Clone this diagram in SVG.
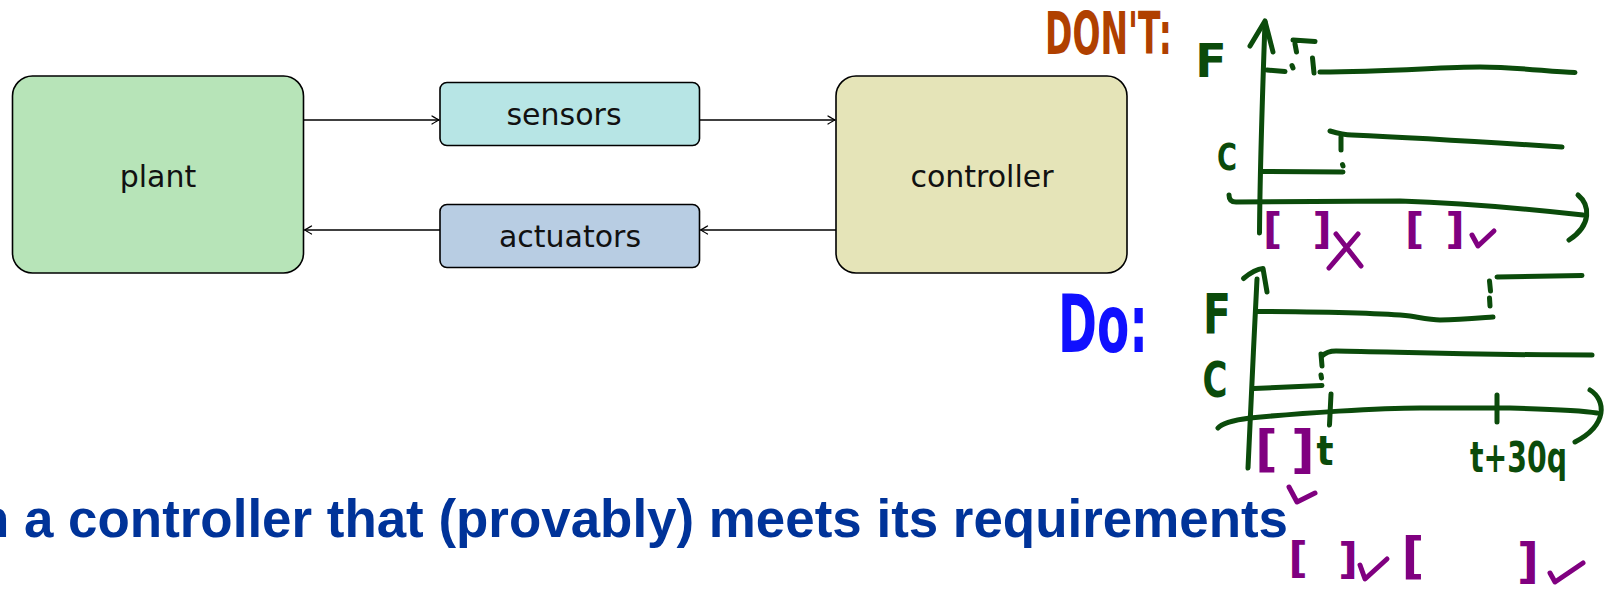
<svg xmlns="http://www.w3.org/2000/svg" width="1616" height="589" viewBox="0 0 1616 589">
  <defs>
    <marker id="tip" viewBox="-10 -6 12 12" markerWidth="12" markerHeight="12" refX="0" refY="0" orient="auto" markerUnits="userSpaceOnUse">
      <path d="M-7,-4 Q-2,-1 0,0 Q-2,1 -7,4" fill="none" stroke="#000" stroke-width="1.3" stroke-linecap="round"/>
    </marker>
    <style>
      .box { stroke: #000; stroke-width: 1.6; }
      .lbl { font-family: "DejaVu Sans", "Liberation Sans", sans-serif; font-size: 30px; fill: #111; text-anchor: middle; }
      .wire { fill: none; stroke: #000; stroke-width: 1.3; marker-end: url(#tip); }
      .ink { fill: none; stroke: #0b4b0b; stroke-width: 5; stroke-linecap: round; stroke-linejoin: round; }
      .pink { fill: none; stroke: #800080; stroke-width: 5; stroke-linecap: round; stroke-linejoin: round; }
      .hand { font-family: "DejaVu Sans", "Liberation Sans", sans-serif; font-weight: bold; }
      .g { fill: #0b4b0b; }
      .p { fill: #800080; text-anchor: middle; }
      .title { font-family: "Liberation Sans", Arial, sans-serif; font-weight: bold; font-size: 54px; fill: #003399; }
    </style>
  </defs>

  <!-- feedback loop: plant, sensors, controller, actuators -->
  <g id="plant">
    <rect class="box" x="12.5" y="76" width="291" height="197" rx="20" fill="#b7e4b8"/>
    <text class="lbl" x="158" y="187">plant</text>
  </g>
  <g id="sensors">
    <rect class="box" x="440" y="82.5" width="259.5" height="63" rx="7" fill="#b7e5e5"/>
    <text class="lbl" x="564" y="125">sensors</text>
  </g>
  <g id="actuators">
    <rect class="box" x="440" y="204.5" width="259.5" height="63" rx="7" fill="#b8cde3"/>
    <text class="lbl" x="570" y="247">actuators</text>
  </g>
  <g id="controller">
    <rect class="box" x="836" y="76" width="291" height="197" rx="20" fill="#e5e4b8"/>
    <text class="lbl" x="982" y="187">controller</text>
  </g>

  <g id="connectors">
    <path class="wire" d="M303.5,120 H439"/>
    <path class="wire" d="M699.5,120 H835"/>
    <path class="wire" d="M836,230 H700.5"/>
    <path class="wire" d="M440,230 H304.5"/>
  </g>

  <!-- headline -->
  <text class="title" x="-23" y="537" textLength="1311" lengthAdjust="spacingAndGlyphs">n a controller that (provably) meets its requirements</text>

  <!-- handwritten timing sketch: the wrong way -->
  <g id="dont-sketch">
    <text class="hand" x="1045" y="54" font-size="58" fill="#b04000" textLength="127" lengthAdjust="spacingAndGlyphs">DON'T:</text>
    <text class="hand g" x="1211" y="77" font-size="46" text-anchor="middle">F</text>
    <text class="hand g" x="1227" y="170" font-size="37" text-anchor="middle" textLength="20" lengthAdjust="spacingAndGlyphs">C</text>
    <!-- axes -->
    <path class="ink" d="M1265,22 C1263,80 1260,160 1259.5,233"/>
    <path class="ink" d="M1250,46 L1265,21 L1273,52"/>
    <path class="ink" d="M1229,195 Q1229,202 1236,202 L1400,201 C1460,203 1520,208 1583,215"/>
    <path class="ink" d="M1578,195 C1590,205 1592,225 1569,240"/>
    <!-- F signal -->
    <path class="ink" d="M1267,70 L1285,71.5"/>
    <path class="ink" d="M1292,65.5 L1293,68"/>
    <path class="ink" d="M1293,40 L1315,41.5 M1295,44 L1296.5,52 M1312.5,58 L1314,73"/>
    <path class="ink" d="M1320,72 C1390,72 1440,67 1480,67 C1520,67 1550,72 1575,72.5"/>
    <!-- C signal -->
    <path class="ink" d="M1261,171.5 L1343,172"/>
    <path class="ink" d="M1342.5,164.5 L1343,166"/>
    <path class="ink" d="M1330,131 C1340,134 1345,135 1352,135 C1420,138 1500,143 1562,147"/>
    <path class="ink" d="M1341,137 L1341,150"/>
    <!-- intervals -->
    <text class="hand p" x="1272.5" y="244" font-size="42">[</text>
    <text class="hand p" x="1322" y="244" font-size="42">]</text>
    <path class="pink" d="M1336,234 L1361,266 M1358,234 L1329,268"/>
    <text class="hand p" x="1414.5" y="244" font-size="42">[</text>
    <text class="hand p" x="1455" y="244" font-size="42">]</text>
    <path class="pink" d="M1472,235 L1478,246 L1494,231"/>
  </g>

  <!-- handwritten timing sketch: the right way -->
  <g id="do-sketch">
    <text class="hand" x="1058" y="352" font-size="80" fill="#1010ff" textLength="90" lengthAdjust="spacingAndGlyphs">Do:</text>
    <text class="hand g" x="1217" y="333" font-size="56" text-anchor="middle" textLength="28" lengthAdjust="spacingAndGlyphs">F</text>
    <text class="hand g" x="1215" y="397" font-size="50" text-anchor="middle" textLength="25" lengthAdjust="spacingAndGlyphs">C</text>
    <!-- axes -->
    <path class="ink" d="M1257,279 C1254,340 1250,420 1248,468"/>
    <path class="ink" d="M1243.5,278.5 C1250,273 1257,269 1263,268.5 L1267,292"/>
    <path class="ink" d="M1218,428 C1222,423 1235,420 1250,418 C1300,413 1380,408 1420,408 L1510,408 C1550,409 1580,410 1597,413"/>
    <path class="ink" d="M1590,390 C1606,400 1608,425 1575,442"/>
    <path class="ink" d="M1331,394 L1329.5,425 M1497,395 L1497,422"/>
    <!-- F signal -->
    <path class="ink" d="M1257,311.5 C1330,312 1380,313 1410,316 C1425,318.5 1432,320 1440,320 C1460,320 1480,318 1493,317"/>
    <path class="ink" d="M1489.5,281 L1490.5,291 M1489.5,298 L1490,306"/>
    <path class="ink" d="M1497,277 L1582,275.5"/>
    <!-- C signal -->
    <path class="ink" d="M1254,388.5 L1322,385.5"/>
    <path class="ink" d="M1321,354 L1322,366 M1321,375 L1321.5,378"/>
    <path class="ink" d="M1322,356 C1326,352 1330,351 1336,351 C1400,352 1470,355 1592,355"/>
    <!-- tick labels -->
    <text class="hand g" x="1325" y="465" font-size="40" text-anchor="middle" textLength="17" lengthAdjust="spacingAndGlyphs">t</text>
    <text class="hand g" x="1470" y="472" font-size="42" textLength="97" lengthAdjust="spacingAndGlyphs">t+30q</text>
    <!-- intervals -->
    <text class="hand p" x="1266.5" y="466" font-size="49">[</text>
    <text class="hand p" x="1303" y="467" font-size="52">]</text>
    <path class="pink" d="M1289,487 L1297,502 L1315,493"/>
    <text class="hand p" x="1298" y="573" font-size="42">[</text>
    <text class="hand p" x="1348" y="574" font-size="43">]</text>
    <path class="pink" d="M1360,565 L1365,579 L1387,559"/>
    <text class="hand p" x="1413" y="573" font-size="50">[</text>
    <text class="hand p" x="1528" y="578" font-size="48">]</text>
    <path class="pink" d="M1550,573 L1555,582 L1583,563"/>
  </g>
</svg>
